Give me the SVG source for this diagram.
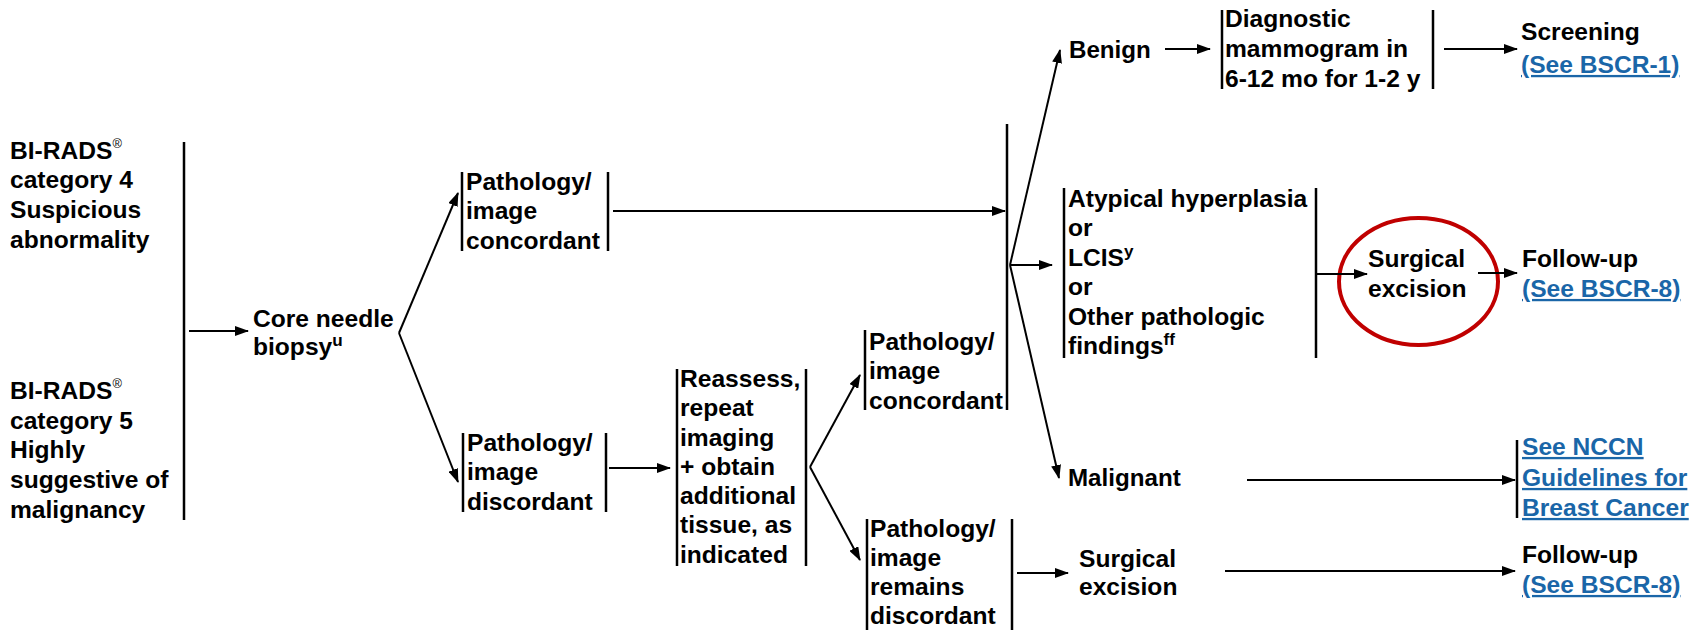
<svg xmlns="http://www.w3.org/2000/svg" width="1704" height="630" viewBox="0 0 1704 630">
<style>
.t{font-family:"Liberation Sans",Arial,sans-serif;font-size:23px;font-weight:bold;fill:#000}
.lk{fill:#1a66a8;text-decoration:underline}
.sup{font-size:16px}
.reg{font-size:12px;font-weight:normal}
.bar{stroke:#000;stroke-width:2.5;fill:none}
.c{stroke:#000;stroke-width:2;fill:none;marker-end:url(#ah)}
</style>
<defs>
<marker id="ah" markerUnits="userSpaceOnUse" markerWidth="14" markerHeight="10" refX="13" refY="5" orient="auto">
<path d="M0,0 L14,5 L0,10 z" fill="#000"/>
</marker>
</defs>
<rect width="1704" height="630" fill="#fff"/>

<g id="n-birads4">
<text class="t" transform="translate(10 159) scale(1.07 1)"><tspan x="0">BI-RADS<tspan class="reg" dy="-11">®</tspan></tspan><tspan x="0" y="29.5">category 4</tspan><tspan x="0" y="59">Suspicious</tspan><tspan x="0" y="89">abnormality</tspan></text>
</g>
<g id="n-birads5">
<text class="t" transform="translate(10 399) scale(1.07 1)"><tspan x="0">BI-RADS<tspan class="reg" dy="-11">®</tspan></tspan><tspan x="0" y="30">category 5</tspan><tspan x="0" y="59.5">Highly</tspan><tspan x="0" y="89.5">suggestive of</tspan><tspan x="0" y="119.5">malignancy</tspan></text>
</g>
<g id="n-birads-bracket">
<line class="bar" x1="184" y1="142" x2="184" y2="520"/>
</g>
<g id="n-core">
<text class="t" transform="translate(253 327) scale(1.07 1)"><tspan x="0">Core needle</tspan><tspan x="0" y="28">biopsy<tspan class="sup" dy="-9">u</tspan></tspan></text>
</g>
<g id="n-concordant1">
<line class="bar" x1="462" y1="172" x2="462" y2="251"/>
<line class="bar" x1="608" y1="172" x2="608" y2="251"/>
<text class="t" transform="translate(466 190) scale(1.07 1)"><tspan x="0">Pathology/</tspan><tspan x="0" y="29.5">image</tspan><tspan x="0" y="59">concordant</tspan></text>
</g>
<g id="n-discordant1">
<line class="bar" x1="463" y1="433" x2="463" y2="512"/>
<line class="bar" x1="606" y1="433" x2="606" y2="512"/>
<text class="t" transform="translate(467 451) scale(1.07 1)"><tspan x="0">Pathology/</tspan><tspan x="0" y="29.5">image</tspan><tspan x="0" y="59">discordant</tspan></text>
</g>
<g id="n-reassess">
<line class="bar" x1="677" y1="369" x2="677" y2="566"/>
<line class="bar" x1="806" y1="369" x2="806" y2="566"/>
<text class="t" transform="translate(680 387) scale(1.07 1)"><tspan x="0">Reassess,</tspan><tspan x="0" y="29.3">repeat</tspan><tspan x="0" y="58.6">imaging</tspan><tspan x="0" y="87.9">+ obtain</tspan><tspan x="0" y="117.2">additional</tspan><tspan x="0" y="146.5">tissue, as</tspan><tspan x="0" y="175.8">indicated</tspan></text>
</g>
<g id="n-concordant2">
<line class="bar" x1="865" y1="330" x2="865" y2="410"/>
<text class="t" transform="translate(869 350) scale(1.07 1)"><tspan x="0">Pathology/</tspan><tspan x="0" y="29.5">image</tspan><tspan x="0" y="59">concordant</tspan></text>
</g>
<g id="n-remains">
<line class="bar" x1="867" y1="519" x2="867" y2="630"/>
<line class="bar" x1="1012" y1="519" x2="1012" y2="630"/>
<text class="t" transform="translate(870 537) scale(1.07 1)"><tspan x="0">Pathology/</tspan><tspan x="0" y="29">image</tspan><tspan x="0" y="58">remains</tspan><tspan x="0" y="87">discordant</tspan></text>
</g>
<g id="n-merge">
<line class="bar" x1="1007" y1="124" x2="1007" y2="410"/>
</g>
<g id="n-benign">
<text class="t" transform="translate(1069 58) scale(1.05 1)">Benign</text>
</g>
<g id="n-diagnostic">
<line class="bar" x1="1222" y1="10" x2="1222" y2="89"/>
<line class="bar" x1="1433" y1="10" x2="1433" y2="89"/>
<text class="t" transform="translate(1225 27) scale(1.07 1)"><tspan x="0">Diagnostic</tspan><tspan x="0" y="30">mammogram in</tspan><tspan x="0" y="60">6-12 mo for 1-2 y</tspan></text>
</g>
<g id="n-screening">
<text class="t" transform="translate(1521 40) scale(1.07 1)"><tspan x="0">Screening</tspan><tspan class="lk" x="0" y="33">(See BSCR-1)</tspan></text>
</g>
<g id="n-atypical">
<line class="bar" x1="1064" y1="188" x2="1064" y2="358"/>
<line class="bar" x1="1316" y1="188" x2="1316" y2="358"/>
<text class="t" transform="translate(1068 207) scale(1.07 1)"><tspan x="0">Atypical hyperplasia</tspan><tspan x="0" y="29.5">or</tspan><tspan x="0" y="59">LCIS<tspan class="sup" dy="-9">y</tspan></tspan><tspan x="0" y="88.5">or</tspan><tspan x="0" y="118">Other pathologic</tspan><tspan x="0" y="147.5">findings<tspan class="sup" dy="-9">ff</tspan></tspan></text>
</g>
<g id="n-surgical1">
<ellipse cx="1418.5" cy="281.5" rx="79.5" ry="63.5" fill="none" stroke="#c00000" stroke-width="4"/>
<text class="t" transform="translate(1368 267) scale(1.07 1)"><tspan x="0">Surgical</tspan><tspan x="0" y="30">excision</tspan></text>
</g>
<g id="n-followup1">
<text class="t" transform="translate(1522 267) scale(1.07 1)"><tspan x="0">Follow-up</tspan><tspan class="lk" x="0" y="30">(See BSCR-8)</tspan></text>
</g>
<g id="n-malignant">
<text class="t" transform="translate(1068 486) scale(1.05 1)">Malignant</text>
</g>
<g id="n-nccn">
<line class="bar" x1="1517" y1="440" x2="1517" y2="518"/>
<text class="t lk" transform="translate(1522 455) scale(1.07 1)"><tspan x="0">See NCCN</tspan><tspan x="0" y="31">Guidelines for</tspan><tspan x="0" y="61">Breast Cancer</tspan></text>
</g>
<g id="n-surgical2">
<text class="t" transform="translate(1079 567) scale(1.07 1)"><tspan x="0">Surgical</tspan><tspan x="0" y="28">excision</tspan></text>
</g>
<g id="n-followup2">
<text class="t" transform="translate(1522 563) scale(1.07 1)"><tspan x="0">Follow-up</tspan><tspan class="lk" x="0" y="30">(See BSCR-8)</tspan></text>
</g>

<g id="connectors">
<line class="c" x1="189" y1="331" x2="248" y2="331"/>
<line class="c" x1="399" y1="333" x2="458" y2="193"/>
<line class="c" x1="399" y1="333" x2="458" y2="482"/>
<line class="c" x1="613" y1="211" x2="1005" y2="211"/>
<line class="c" x1="609" y1="468" x2="670" y2="468"/>
<line class="c" x1="810" y1="467" x2="860" y2="375"/>
<line class="c" x1="810" y1="467" x2="860" y2="560"/>
<line class="c" x1="1010" y1="265" x2="1060" y2="50"/>
<line class="c" x1="1010" y1="265" x2="1052" y2="265"/>
<line class="c" x1="1010" y1="265" x2="1059" y2="478"/>
<line class="c" x1="1165" y1="49" x2="1210" y2="49"/>
<line class="c" x1="1444" y1="49" x2="1517" y2="49"/>
<line class="c" x1="1316" y1="274" x2="1367" y2="274"/>
<line class="c" x1="1478" y1="273" x2="1517" y2="273"/>
<line class="c" x1="1247" y1="480" x2="1515" y2="480"/>
<line class="c" x1="1017" y1="573" x2="1068" y2="573"/>
<line class="c" x1="1225" y1="571" x2="1515" y2="571"/>
</g>
</svg>
